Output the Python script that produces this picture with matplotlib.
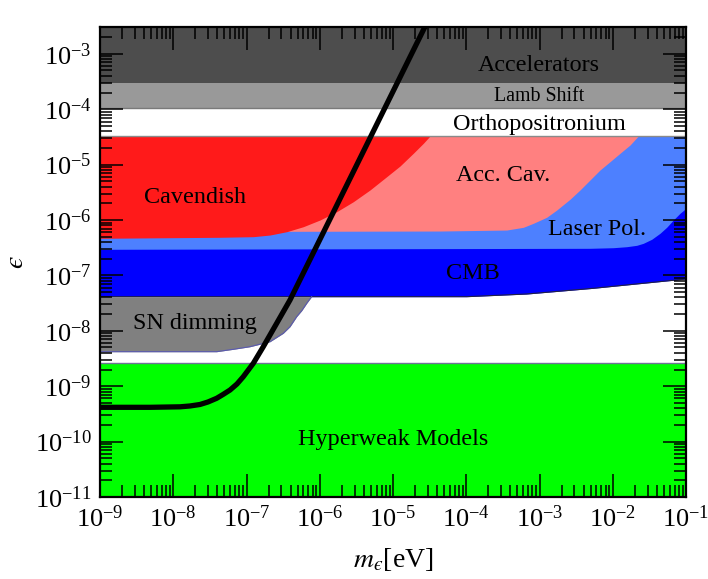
import numpy as np
import matplotlib
matplotlib.use("Agg")
import matplotlib.pyplot as plt

plt.rcParams['font.family'] = ['Liberation Serif', 'DejaVu Serif']
plt.rcParams['mathtext.fontset'] = 'stix'

# ---- data (log10 values) ----
# Kinetic-mixing curve
curve_logm = [-9.0, -8.317, -7.908, -7.771, -7.635, -7.526, -7.407, -7.321, -7.225,
              -7.130, -7.044, -6.907, -6.771, -6.588, -6.406, -5.542, -4.563]
curve_logeps = [-9.381, -9.381, -9.372, -9.357, -9.330, -9.285, -9.218, -9.150, -9.069,
                -8.960, -8.829, -8.587, -8.287, -7.865, -7.444, -5.131, -2.51]

# Cavendish (red) lower boundary, top = orthopositronium lower
cav_logm = [-9.0, -7.362, -6.907, -6.679, -6.451, -6.225, -5.997, -5.769, -5.542,
            -5.314, -5.086, -4.904, -4.723, -4.586, -4.495]
cav_logeps = [-6.330, -6.312, -6.301, -6.271, -6.211, -6.121, -6.0, -5.850, -5.670,
              -5.458, -5.218, -5.025, -4.796, -4.616, -4.484]

# Accelerator cavity (pink) lower boundary
acc_logm = [-9.0, -4.358, -3.448, -3.221, -3.085, -2.902, -2.765, -2.584, -2.447,
            -2.311, -2.174, -2.038, -1.901, -1.764, -1.651]
acc_logeps = [-6.211, -6.199, -6.181, -6.132, -6.060, -5.951, -5.820, -5.626, -5.458,
              -5.278, -5.097, -4.948, -4.796, -4.646, -4.484]

# Laser polarisation (light blue) lower boundary
las_logm = [-9.0, -2.311, -1.992, -1.810, -1.673, -1.583, -1.468, -1.355, -1.264,
            -1.173, -1.082, -1.0]
las_logeps = [-6.529, -6.511, -6.500, -6.482, -6.457, -6.421, -6.348, -6.240, -6.132,
              -6.0, -5.879, -5.789]

# CMB (blue) lower boundary
cmb_logm = [-9.0, -3.994, -3.175, -2.265, -1.0]
cmb_logeps = [-7.384, -7.384, -7.336, -7.233, -7.065]

# SN dimming (grey) lower boundary, top = CMB lower
sn_logm = [-9.0, -7.407, -7.180, -6.952, -6.679, -6.498, -6.406, -6.315, -6.246,
           -6.178, -6.111]
sn_logeps = [-8.377, -8.377, -8.334, -8.287, -8.197, -8.045, -7.926, -7.745, -7.637,
             -7.504, -7.384]

# horizontal bands (log10 eps)
acc_low = -3.532       # Accelerators lower edge
lamb_low = -3.975      # Lamb shift lower edge
ortho_low = -4.484     # Orthopositronium lower edge
hyper_top = -8.587     # Hyperweak models upper edge

xlim = (1e-9, 1e-1)
ylim = (1e-11, 10 ** -2.516)

labels = ["Accelerators", "Lamb Shift", "Orthopositronium", "Acc. Cav.", "Cavendish",
          "Laser Pol.", "CMB", "SN dimming", "Hyperweak Models"]
label_logm = [-3.007, -3.007, -3.007, -3.498, -7.703, -2.208, -3.915, -7.703, -5.004]
label_logeps = [-3.202, -3.774, -4.267, -5.188, -5.585, -6.168, -6.962, -7.877, -9.971]
label_size = [17.4, 14.3, 17.4, 17.4, 17.4, 17.4, 17.4, 17.4, 17.4]

# ---- plot ----
fig = plt.figure(figsize=(7.08, 5.79), dpi=100)
ax = fig.add_axes([100 / 708, 1 - 497 / 579, 586 / 708, 470 / 579])
ax.set_xscale('log')
ax.set_yscale('log')
ax.set_xlim(*xlim)
ax.set_ylim(*ylim)

p = lambda a: 10 ** np.asarray(a, dtype=float)
top_band = 10 ** ortho_low

# horizontal bands
ax.axhspan(10 ** acc_low, ylim[1], color='#4d4d4d', lw=0, zorder=1)
ax.axhspan(10 ** lamb_low, 10 ** acc_low, color='#999999', lw=0, zorder=1)
ax.axhline(10 ** lamb_low, color='#7a7a7a', lw=1.0, zorder=1.1)
ax.axhspan(ylim[0], 10 ** hyper_top, color='#00ff00', lw=0, zorder=1)
ax.axhline(10 ** hyper_top, color='#6f7396', lw=1.0, zorder=1.1)

# CMB
ax.fill_between(p(cmb_logm), p(cmb_logeps), top_band, color='#0000ff', lw=0, zorder=1)
ax.plot(p(cmb_logm), p(cmb_logeps), color='#222244', lw=0.8, zorder=1.1)
# Laser polarisation
ax.fill_between(p(las_logm), p(las_logeps), top_band, color='#4d80ff', lw=0, zorder=1.2)
# Accelerator cavity
ax.fill_between(p(acc_logm), p(acc_logeps), top_band, color='#ff8080', lw=0, zorder=1.3)
# Cavendish
ax.fill_between(p(cav_logm), p(cav_logeps), top_band, color='#ff1a1a', lw=0, zorder=1.4)
ax.axhline(top_band, color='#8a8a8a', lw=1.0, zorder=1.45)
# SN dimming
ax.fill_between(p(sn_logm), p(sn_logeps), 10 ** cmb_logeps[0], color='#808080', lw=0, zorder=1.4)
ax.plot(p(sn_logm), p(sn_logeps), color='#5a5ab0', lw=0.8, zorder=1.45)

# curve
ax.plot(p(curve_logm), p(curve_logeps), color='black', lw=3.8, solid_capstyle='butt',
        solid_joinstyle='round', zorder=3)

for t, lm, le, fs in zip(labels, label_logm, label_logeps, label_size):
    ax.text(10 ** lm, 10 ** le, t, ha='center', va='center', fontsize=fs, zorder=4)

# axes styling
for s in ax.spines.values():
    s.set_linewidth(1.6)
    s.set_zorder(5)
ax.tick_params(which='both', direction='in', top=True, right=True, zorder=4.5)
ax.tick_params(which='major', length=16.5, width=1.1, labelsize=19, pad=6)
ax.tick_params(which='minor', length=8.5, width=1.1)
ax.xaxis.set_major_locator(matplotlib.ticker.LogLocator(base=10, numticks=20))
ax.yaxis.set_major_locator(matplotlib.ticker.LogLocator(base=10, numticks=20))
ax.xaxis.set_minor_locator(matplotlib.ticker.LogLocator(base=10, subs=np.arange(2, 10), numticks=20))
ax.yaxis.set_minor_locator(matplotlib.ticker.LogLocator(base=10, subs=np.arange(2, 10), numticks=20))
ax.xaxis.set_minor_formatter(matplotlib.ticker.NullFormatter())
ax.yaxis.set_minor_formatter(matplotlib.ticker.NullFormatter())
ax.set_axisbelow(False)

ax.set_xlabel('$m_{\u03f5}$[eV]', fontsize=20, labelpad=10)
ax.set_ylabel('$\u03f5$', fontsize=20, labelpad=4)

fig.savefig('out.png', dpi=100)
